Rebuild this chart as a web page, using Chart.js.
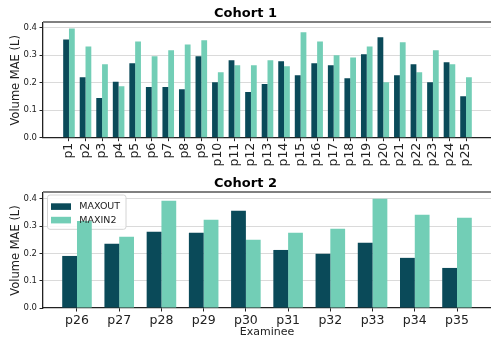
<!DOCTYPE html>
<html>
<head>
<meta charset="utf-8">
<script src="https://cdn.jsdelivr.net/npm/chart.js@4/dist/chart.umd.min.js"></script>
<style>
  html, body { margin: 0; padding: 0; background: #fff; }
  #wrap { position: relative; width: 491px; height: 339px; }
  .box { position: absolute; left: 0; width: 491px; }
</style>
</head>
<body>
<div id="wrap">
  <div class="box" style="top:0;height:170px"><canvas id="c1"></canvas></div>
  <div class="box" style="top:170px;height:169px"><canvas id="c2"></canvas></div>
</div>
<script>
// Volume MAE (L) per examinee, two protocols
const cohort1Labels = ['p1','p2','p3','p4','p5','p6','p7','p8','p9','p10','p11','p12','p13',
  'p14','p15','p16','p17','p18','p19','p20','p21','p22','p23','p24','p25'];
const cohort1Maxout = [0.357,0.220,0.144,0.203,0.271,0.184,0.184,0.176,0.296,0.202,0.282,0.166,0.195,
  0.278,0.227,0.271,0.263,0.216,0.303,0.365,0.227,0.267,0.202,0.274,0.151];
const cohort1Maxin2 = [0.397,0.332,0.267,0.187,0.350,0.296,0.318,0.339,0.354,0.238,0.263,0.263,0.282,
  0.260,0.383,0.350,0.300,0.292,0.332,0.202,0.347,0.238,0.318,0.267,0.220];

const cohort2Labels = ['p26','p27','p28','p29','p30','p31','p32','p33','p34','p35'];
const cohort2Maxout = [0.191,0.236,0.280,0.276,0.357,0.213,0.199,0.239,0.184,0.147];
const cohort2Maxin2 = [0.319,0.261,0.394,0.324,0.250,0.276,0.291,0.401,0.342,0.331];

const seriesNames = ['MAXOUT', 'MAXIN2'];
const yTickValues = [0, 0.1, 0.2, 0.3, 0.4];

const DARK = '#0a4a59';
const LIGHT = '#72ceb6';
const INK = '#222222';
const FONT = "'DejaVu Sans', sans-serif";

// grey top spine along the plot area
const topSpine = {
  id: 'topSpine',
  afterDraw(chart) {
    const { ctx, chartArea } = chart;
    ctx.save();
    ctx.strokeStyle = '#808080';
    ctx.lineWidth = 2;
    ctx.beginPath();
    ctx.moveTo(chartArea.left, chartArea.top - 1);
    ctx.lineTo(chart.width, chartArea.top - 1);
    ctx.stroke();
    ctx.restore();
  }
};

// boxed legend in the upper-left corner of the plot area
const boxLegend = {
  id: 'boxLegend',
  beforeDatasetsDraw(chart, args, opts) {
    if (!opts.show) return;
    const { ctx, chartArea } = chart;
    const x = chartArea.left + 4.5, y = chartArea.top + 2;
    ctx.save();
    ctx.beginPath();
    ctx.roundRect(x, y, 78.5, 34.3, 2.5);
    ctx.fillStyle = 'rgba(255,255,255,0.85)';
    ctx.fill();
    ctx.strokeStyle = '#d4d4d4';
    ctx.lineWidth = 1;
    ctx.stroke();
    ctx.restore();
  },
  afterDatasetsDraw(chart, args, opts) {
    if (!opts.show) return;
    const { ctx, chartArea } = chart;
    const x = chartArea.left + 4.5, y = chartArea.top + 2;
    ctx.save();
    ctx.font = "9.5px " + FONT;
    ctx.textBaseline = 'middle';
    chart.data.datasets.forEach((ds, i) => {
      const rowY = y + 11.5 + i * 13.5;
      ctx.fillStyle = ds.backgroundColor;
      ctx.fillRect(x + 3.5, rowY - 3.2, 20, 6.6);
      ctx.fillStyle = INK;
      ctx.fillText(ds.label, x + 31.8, rowY + 0.3);
    });
    ctx.restore();
  }
};

function makeChart(canvasId, cfg) {
  return new Chart(document.getElementById(canvasId), {
    type: 'bar',
    data: {
      datasets: [
        { label: seriesNames[0], data: cfg.a.map((v, i) => ({ x: i, y: v })), backgroundColor: DARK },
        { label: seriesNames[1], data: cfg.b.map((v, i) => ({ x: i, y: v })), backgroundColor: LIGHT }
      ]
    },
    plugins: [topSpine, boxLegend],
    options: {
      responsive: true,
      maintainAspectRatio: false,
      animation: false,
      events: [],
      categoryPercentage: 0.7,
      barPercentage: 1.0,
      layout: { padding: 0 },
      plugins: {
        legend: { display: false },
        tooltip: { enabled: false },
        title: {
          display: true,
          text: cfg.title,
          color: '#000',
          font: { family: FONT, size: 13, weight: 'bold', lineHeight: 1.2 },
          padding: { top: 6, bottom: 1.4 }
        },
        boxLegend: { show: cfg.legend }
      },
      scales: {
        x: {
          type: 'linear',
          min: cfg.xMin,
          max: cfg.xMax,
          offset: false,
          afterBuildTicks: s => { s.ticks = cfg.labels.map((_, i) => ({ value: i })); },
          afterFit: s => { s.height = cfg.xHeight; },
          ticks: {
            autoSkip: false,
            minRotation: cfg.rotate,
            maxRotation: cfg.rotate,
            padding: 1.5,
            color: INK,
            font: { family: FONT, size: 12.5 },
            callback: v => cfg.labels[v]
          },
          grid: {
            offset: false,
            drawOnChartArea: false,
            drawTicks: true,
            tickLength: 3.5,
            tickColor: INK,
            tickWidth: 1
          },
          border: { display: true, color: INK, width: 1.3 },
          title: {
            display: !!cfg.xTitle,
            text: cfg.xTitle || '',
            color: INK,
            font: { family: FONT, size: 11 },
            padding: { top: 0, bottom: 0 }
          }
        },
        y: {
          min: 0,
          max: cfg.yMax,
          z: 1,
          afterBuildTicks: s => { s.ticks = yTickValues.map(v => ({ value: v })); },
          afterFit: s => { s.width = 43; },
          ticks: {
            padding: 2.5,
            color: INK,
            font: { family: FONT, size: 8.5 },
            callback: v => v.toFixed(1)
          },
          grid: {
            drawTicks: true,
            tickLength: 3.5,
            tickColor: INK,
            tickWidth: 1,
            tickBorderDash: [],
            color: ctx => (ctx.tick && ctx.tick.value === 0) ? 'rgba(0,0,0,0)' : '#d6d6d6',
            lineWidth: 0.9,
            borderDash: [3, 1.5]
          },
          border: { display: true, color: INK, width: 1.3 },
          title: {
            display: true,
            text: 'Volume MAE (L)',
            color: INK,
            font: { family: FONT, size: 11.5 },
            padding: { top: 9, bottom: 0 }
          }
        }
      }
    }
  });
}

makeChart('c1', {
  title: 'Cohort 1',
  labels: cohort1Labels, a: cohort1Maxout, b: cohort1Maxin2,
  xMin: -1.57, xMax: 25.51, yMax: 0.417,
  rotate: 90, xHeight: 32.3, legend: false
});

makeChart('c2', {
  title: 'Cohort 2',
  labels: cohort2Labels, a: cohort2Maxout, b: cohort2Maxin2,
  xMin: -0.805, xMax: 9.805, yMax: 0.422,
  rotate: 0, xHeight: 31, legend: true, xTitle: 'Examinee'
});
</script>
</body>
</html>
